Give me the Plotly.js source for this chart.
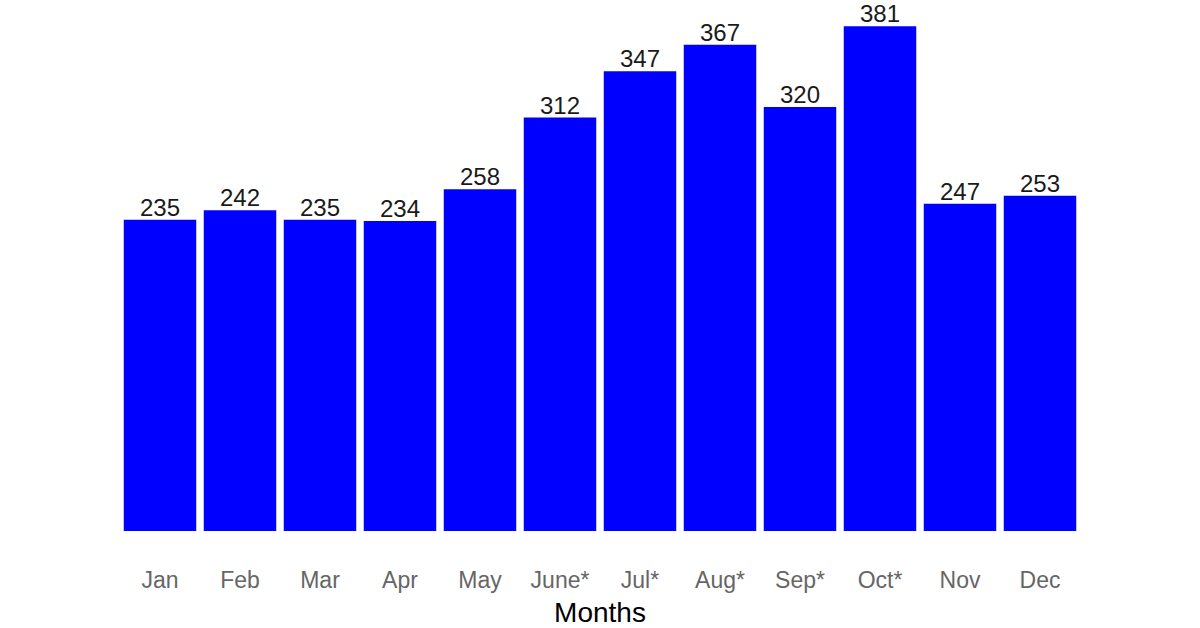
<!DOCTYPE html>
<html>
<head>
<meta charset="utf-8">
<script src="https://cdn.plot.ly/plotly-3.0.1.min.js"></script>
<style>html,body{margin:0;padding:0;background:#fff;}#chart{width:1200px;height:628px;}</style>
</head>
<body>
<div id="chart"></div>
<script>
const months = ["Jan","Feb","Mar","Apr","May","June*","Jul*","Aug*","Sep*","Oct*","Nov","Dec"];
const counts = [235,242,235,234,258,312,347,367,320,381,247,253];

const trace = {
  type: 'bar',
  x: months,
  y: counts,
  marker: {color: '#0000ff'},
  hoverinfo: 'x+y'
};

const labels = months.map((m, i) => ({
  x: m,
  y: counts[i],
  xref: 'x',
  yref: 'y',
  text: String(counts[i]),
  showarrow: false,
  yanchor: 'bottom',
  xanchor: 'center',
  yshift: -3,
  font: {family: 'Liberation Sans, Arial, sans-serif', size: 24, color: '#1a1a1a'}
}));

const layout = {
  width: 1200,
  height: 628,
  margin: {l: 120, r: 120, t: 1, b: 97},
  paper_bgcolor: '#fff',
  plot_bgcolor: '#fff',
  bargap: 0.094,
  showlegend: false,
  font: {family: 'Liberation Sans, Arial, sans-serif'},
  annotations: labels,
  xaxis: {
    type: 'category',
    range: [-0.5, 11.5],
    showgrid: false,
    zeroline: false,
    showline: false,
    ticks: 'outside',
    ticklen: 28,
    tickcolor: 'rgba(0,0,0,0)',
    tickfont: {size: 23, color: '#666'},
    title: {text: 'Months', font: {size: 28, color: '#000'}, standoff: 10}
  },
  yaxis: {
    range: [0, 400],
    visible: false,
    showgrid: false,
    zeroline: false
  }
};

Plotly.newPlot('chart', [trace], layout, {displayModeBar: false, staticPlot: true});
</script>
</body>
</html>
